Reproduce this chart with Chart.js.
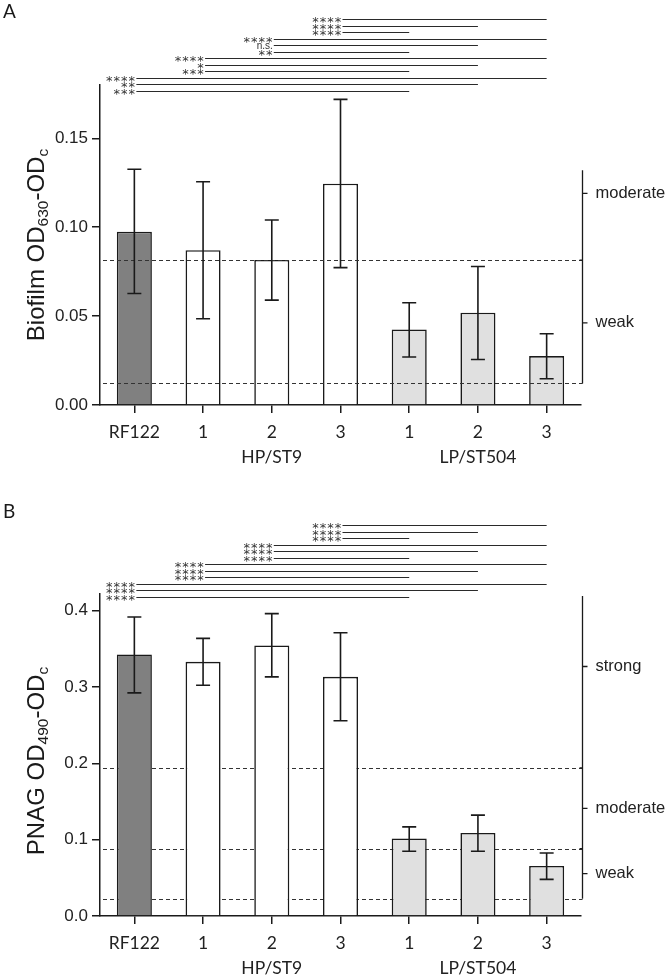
<!DOCTYPE html>
<html>
<head>
<meta charset="utf-8">
<script src="https://cdn.jsdelivr.net/npm/chart.js@4.4.1/dist/chart.umd.min.js"></script>
<style>
  html, body { margin: 0; padding: 0; background: #fff; }
  canvas { display: block; }
</style>
</head>
<body>
<canvas id="chartA" width="666" height="488"></canvas>
<canvas id="chartB" width="666" height="489"></canvas>
<script>
// x categories, second line under some of them carries the group name
var categories = ['RF122', '1', '2', '3', '1', '2', '3'];
var groups = ['', '', 'HP/ST9', '', '', 'LP/ST504', ''];
var barColors = ['#808080', '#ffffff', '#ffffff', '#ffffff', '#e0e0e0', '#e0e0e0', '#e0e0e0'];

// panel A - biofilm
var biofilmMean = [0.0975, 0.0871, 0.0816, 0.1245, 0.0425, 0.0519, 0.0275];
var biofilmLow  = [0.0627, 0.0485, 0.0590, 0.0773, 0.0270, 0.0256, 0.0148];
var biofilmHigh = [0.1326, 0.1256, 0.1041, 0.1719, 0.0575, 0.0779, 0.0401];
var biofilmTicks = [0, 0.05, 0.10, 0.15];
var biofilmCutoffs = [0.0121, 0.0815];
var biofilmBands = ['weak', 'moderate'];
var biofilmBandMarks = [0.0462, 0.119];
var biofilmBracketTop = 0.132;
// [from, to, label], top row first
var biofilmSig = [
  [3, 6, '****'], [3, 5, '****'], [3, 4, '****'],
  [2, 6, '****'], [2, 5, 'n.s.'], [2, 4, '**'],
  [1, 6, '****'], [1, 5, '*'], [1, 4, '***'],
  [0, 6, '****'], [0, 5, '**'], [0, 4, '***']
];

// panel B - PNAG
var pnagMean = [0.3428, 0.3331, 0.3546, 0.3134, 0.1016, 0.1089, 0.0655];
var pnagLow  = [0.2924, 0.3024, 0.3134, 0.2559, 0.0849, 0.0849, 0.0480];
var pnagHigh = [0.3918, 0.3638, 0.3963, 0.3713, 0.1168, 0.1322, 0.0826];
var pnagTicks = [0, 0.1, 0.2, 0.3, 0.4];
var pnagCutoffs = [0.0226, 0.0884, 0.194];
var pnagBands = ['weak', 'moderate', 'strong'];
var pnagBandMarks = [0.0555, 0.141, 0.327];
var pnagBracketTop = 0.4195;
var pnagSig = [
  [3, 6, '****'], [3, 5, '****'], [3, 4, '****'],
  [2, 6, '****'], [2, 5, '****'], [2, 4, '****'],
  [1, 6, '****'], [1, 5, '****'], [1, 4, '****'],
  [0, 6, '****'], [0, 5, '****'], [0, 4, '****']
];

var INK = '#1a1a1a';

function drawCutoffs(chart, c) {
  var ctx = chart.ctx, y = chart.scales.y, a = chart.chartArea;
  ctx.save();
  ctx.setLineDash([4, 3]);
  ctx.strokeStyle = '#333';
  ctx.lineWidth = 1.2;
  c.cutoffs.forEach(function(v) {
    var py = Math.round(y.getPixelForValue(v)) + 0.5;
    ctx.beginPath();
    ctx.moveTo(a.left + 3, py);
    ctx.lineTo(a.right + 1.5, py);
    ctx.stroke();
  });
  ctx.restore();
}

function drawErrors(chart, c) {
  var ctx = chart.ctx, x = chart.scales.x, y = chart.scales.y;
  ctx.save();
  ctx.strokeStyle = INK;
  ctx.lineWidth = 1.6;
  c.low.forEach(function(lo, i) {
    var px = x.getPixelForValue(i);
    var y1 = y.getPixelForValue(lo), y2 = y.getPixelForValue(c.high[i]);
    ctx.beginPath();
    ctx.moveTo(px, y1); ctx.lineTo(px, y2);
    ctx.moveTo(px - 7, y1); ctx.lineTo(px + 7, y1);
    ctx.moveTo(px - 7, y2); ctx.lineTo(px + 7, y2);
    ctx.stroke();
  });
  ctx.restore();
}

function drawBracket(chart, c) {
  var ctx = chart.ctx, y = chart.scales.y, a = chart.chartArea;
  var bx = a.right + 1.5;
  ctx.save();
  ctx.strokeStyle = INK;
  ctx.lineWidth = 1.3;
  ctx.beginPath();
  ctx.moveTo(bx, y.getPixelForValue(c.bracketTop));
  ctx.lineTo(bx, y.getPixelForValue(c.cutoffs[0]));
  c.cutoffs.slice(1).forEach(function(v) {
    var py = y.getPixelForValue(v);
    ctx.moveTo(bx - 3, py); ctx.lineTo(bx, py);
  });
  c.bandMarks.forEach(function(v) {
    var py = y.getPixelForValue(v);
    ctx.moveTo(bx, py); ctx.lineTo(bx + 5, py);
  });
  ctx.stroke();
  ctx.fillStyle = '#222';
  ctx.font = '16.5px "Liberation Sans", Arial, sans-serif';
  ctx.textBaseline = 'middle';
  ctx.textAlign = 'left';
  c.bands.forEach(function(t, i) {
    ctx.fillText(t, bx + 13, y.getPixelForValue(c.bandMarks[i]));
  });
  ctx.restore();
}

function drawSig(chart, c) {
  var ctx = chart.ctx, x = chart.scales.x, a = chart.chartArea;
  var n = c.sig.length, step = 6.52;
  var bottom = a.top + c.sigBottom;
  ctx.save();
  ctx.strokeStyle = '#2a2a2a';
  ctx.lineWidth = 1.2;
  ctx.fillStyle = '#333';
  ctx.textBaseline = 'alphabetic';
  c.sig.forEach(function(r, i) {
    var py = Math.round(bottom - (n - 1 - i) * step) + 0.5;
    var x0 = x.getPixelForValue(r[0]) + 2, x1 = x.getPixelForValue(r[1]);
    ctx.beginPath();
    ctx.moveTo(x0, py); ctx.lineTo(x1, py);
    ctx.stroke();
    var m;
    if (r[2] === 'n.s.') {
      ctx.font = '10px "Liberation Sans", Arial, sans-serif';
      ctx.textAlign = 'right';
      m = ctx.measureText(r[2]);
      ctx.fillText(r[2], x0 - 1, py + (m.actualBoundingBoxAscent - m.actualBoundingBoxDescent) / 2);
    } else {
      // asterisks on a fixed pitch, right to left
      ctx.font = '13px "DejaVu Sans", sans-serif';
      ctx.textAlign = 'center';
      m = ctx.measureText('*');
      var base = py + (m.actualBoundingBoxAscent - m.actualBoundingBoxDescent) / 2;
      for (var k = 0; k < r[2].length; k++) {
        ctx.fillText('*', x0 - 4.5 - k * 7.5, base);
      }
    }
  });
  ctx.restore();
}

function drawTitle(chart, c) {
  var ctx = chart.ctx, a = chart.chartArea;
  var big = '24px "Liberation Sans", Arial, sans-serif';
  var small = '15.5px "Liberation Sans", Arial, sans-serif';
  var parts = [[c.title[0], big, 0], [c.title[1], small, 4.5], [c.title[2], big, 0], [c.title[3], small, 4.5]];
  ctx.save();
  var total = 0;
  parts.forEach(function(p) { ctx.font = p[1]; p.push(ctx.measureText(p[0]).width); total += p[3]; });
  ctx.translate(43.5, (a.top + a.bottom) / 2 + c.titleShift);
  ctx.rotate(-Math.PI / 2);
  ctx.fillStyle = '#1a1a1a';
  ctx.textBaseline = 'alphabetic';
  ctx.textAlign = 'left';
  var cx = -total / 2;
  parts.forEach(function(p) {
    ctx.font = p[1];
    ctx.fillText(p[0], cx, p[2]);
    cx += p[3];
  });
  ctx.restore();
}

function drawLetter(chart, c) {
  var ctx = chart.ctx;
  ctx.save();
  ctx.fillStyle = '#1a1a1a';
  ctx.font = '19px Lato, sans-serif';
  ctx.textBaseline = 'top';
  ctx.fillText(c.letter, 3, c.letterTop);
  ctx.restore();
}

function makeExtras(c) {
  return {
    id: 'extras' + c.letter,
    beforeDatasetsDraw: function(chart) { if (!c.dashOnTop) drawCutoffs(chart, c); },
    afterDatasetsDraw: function(chart) {
      if (c.dashOnTop) drawCutoffs(chart, c);
      drawErrors(chart, c);
      drawBracket(chart, c);
      drawSig(chart, c);
      drawTitle(chart, c);
      drawLetter(chart, c);
    }
  };
}

function makeChart(id, c) {
  var labels = categories.map(function(t, i) { return groups[i] ? [t, groups[i]] : t; });
  return new Chart(document.getElementById(id), {
    type: 'bar',
    data: {
      labels: labels,
      datasets: [{
        data: c.mean,
        backgroundColor: barColors,
        borderColor: INK,
        borderWidth: 1.6,
        barPercentage: 0.51,
        categoryPercentage: 1
      }]
    },
    options: {
      responsive: false,
      animation: false,
      layout: { padding: { top: c.padTop, right: 85, left: 0, bottom: 0 } },
      plugins: { legend: { display: false }, tooltip: { enabled: false } },
      scales: {
        x: {
          offset: true,
          grid: { display: true, drawOnChartArea: false, drawTicks: true, tickLength: 8, offset: false, color: INK, lineWidth: 1.5 },
          border: { display: true, color: INK, width: 1.5 },
          ticks: { color: '#222', font: { family: 'Lato', size: 17.5, lineHeight: 1.42 }, padding: 7, maxRotation: 0, autoSkip: false },
          afterFit: function(s) { s.height = c.xHeight; }
        },
        y: {
          min: 0,
          max: c.yMax,
          grid: { display: true, drawOnChartArea: false, drawTicks: true, tickLength: 8, color: INK, lineWidth: 1.5 },
          border: { display: true, color: INK, width: 1.5 },
          ticks: {
            color: '#222',
            font: { family: '"Liberation Sans", Arial, sans-serif', size: 17 },
            padding: 4,
            callback: function(v) { return Number(v).toFixed(c.decimals); }
          },
          afterBuildTicks: function(s) { s.ticks = c.ticks.map(function(v) { return { value: v }; }); },
          afterFit: function(s) { s.width = 100; }
        }
      }
    },
    plugins: [makeExtras(c)]
  });
}

makeChart('chartA', {
  letter: 'A', letterTop: 2,
  mean: biofilmMean, low: biofilmLow, high: biofilmHigh,
  ticks: biofilmTicks, decimals: 2, yMax: 0.18,
  cutoffs: biofilmCutoffs, bands: biofilmBands, bandMarks: biofilmBandMarks, bracketTop: biofilmBracketTop,
  sig: biofilmSig, sigBottom: 5.7,
  title: ['Biofilm OD', '630', '-OD', 'c'], titleShift: 0,
  dashOnTop: true, padTop: 85, xHeight: 83
});

makeChart('chartB', {
  letter: 'B', letterTop: 14,
  mean: pnagMean, low: pnagLow, high: pnagHigh,
  ticks: pnagTicks, decimals: 1, yMax: 0.422,
  cutoffs: pnagCutoffs, bands: pnagBands, bandMarks: pnagBandMarks, bracketTop: pnagBracketTop,
  sig: pnagSig, sigBottom: 2.7,
  title: ['PNAG OD', '490', '-OD', 'c'], titleShift: 6,
  dashOnTop: false, padTop: 106, xHeight: 61
});
</script>
</body>
</html>
